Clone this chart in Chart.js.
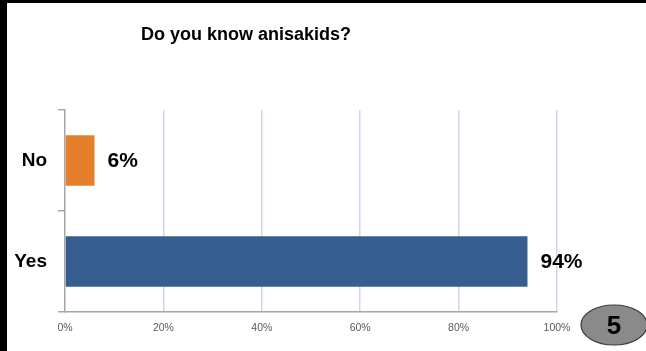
<!DOCTYPE html>
<html>
<head>
<meta charset="utf-8">
<script src="https://cdn.jsdelivr.net/npm/chart.js@4.4.1/dist/chart.umd.min.js"></script>
<style>
  html, body { margin: 0; padding: 0; background: #fff; }
  #wrap { position: relative; width: 646px; height: 351px; }
  canvas { display: block; }
</style>
</head>
<body>
<div id="wrap"><canvas id="c" width="646" height="351"></canvas></div>
<script>
const titleText = "Do you know anisakids?";
const categories = ["No", "Yes"];
const values = [6, 94];
const valueLabels = ["6%", "94%"];
const barColors = ["#e67f2c", "#365f8f"];
const xTicks = [0, 20, 40, 60, 80, 100];
const badgeText = "5";

const decor = {
  id: 'decor',
  beforeDraw(chart) {
    const ctx = chart.ctx;
    ctx.save();
    ctx.fillStyle = '#ffffff';
    ctx.fillRect(0, 0, chart.width, chart.height);
    ctx.restore();
  },
  afterDraw(chart) {
    const ctx = chart.ctx;
    ctx.save();
    // frame
    ctx.fillStyle = '#000000';
    ctx.fillRect(0, 0, chart.width, 3);
    ctx.fillRect(0, 0, 7, chart.height);
    // title
    ctx.fillStyle = '#000000';
    ctx.font = 'bold 18px "Liberation Sans", Arial, sans-serif';
    ctx.textAlign = 'center';
    ctx.textBaseline = 'middle';
    ctx.fillText(titleText, 246, 35);
    // value labels
    const meta = chart.getDatasetMeta(0);
    ctx.font = 'bold 21px "Liberation Sans", Arial, sans-serif';
    ctx.textAlign = 'left';
    meta.data.forEach((bar, i) => {
      ctx.fillText(valueLabels[i], bar.x + 13, bar.y + 1);
    });
    // badge
    ctx.beginPath();
    ctx.ellipse(614, 325, 33, 20, 0, 0, Math.PI * 2);
    ctx.fillStyle = '#8a8a8a';
    ctx.fill();
    ctx.lineWidth = 1.2;
    ctx.strokeStyle = '#3a3a3a';
    ctx.stroke();
    ctx.fillStyle = '#000000';
    ctx.font = 'bold 26px "Liberation Sans", Arial, sans-serif';
    ctx.textAlign = 'center';
    ctx.fillText(badgeText, 614, 327);
    ctx.restore();
  }
};

new Chart(document.getElementById('c'), {
  type: 'bar',
  data: {
    labels: categories,
    datasets: [{
      data: values,
      backgroundColor: barColors,
      borderWidth: 0,
      barPercentage: 0.5,
      categoryPercentage: 1.0
    }]
  },
  options: {
    indexAxis: 'y',
    responsive: false,
    animation: false,
    devicePixelRatio: 1,
    layout: { padding: { left: 8, right: 89, top: 110, bottom: 9 } },
    plugins: { legend: { display: false }, tooltip: { enabled: false }, title: { display: false } },
    scales: {
      x: {
        min: 0, max: 100,
        afterBuildTicks(scale) { scale.ticks = xTicks.map(v => ({ value: v })); },
        afterFit(scale) { scale.height = 30; },
        grid: {
          color: (c) => c.tick && c.tick.value === 0 ? 'rgba(0,0,0,0)' : '#ccd8f0',
          lineWidth: 1.5,
          drawTicks: false
        },
        border: { display: true, color: '#a6a6a6', width: 1.5 },
        ticks: {
          padding: 10,
          color: '#5a5a5a',
          font: { family: '"Liberation Sans", Arial, sans-serif', size: 10.5 },
          callback: (v) => v + '%'
        }
      },
      y: {
        afterFit(scale) { scale.width = 57; },
        grid: {
          drawOnChartArea: false,
          drawTicks: true,
          tickLength: 7,
          color: '#a6a6a6',
          lineWidth: 1.5,
          offset: true
        },
        border: { display: true, color: '#a6a6a6', width: 1.5 },
        ticks: {
          padding: 11,
          color: '#000000',
          font: { family: '"Liberation Sans", Arial, sans-serif', size: 19, weight: 'bold' }
        }
      }
    }
  },
  plugins: [decor]
});
</script>
</body>
</html>
